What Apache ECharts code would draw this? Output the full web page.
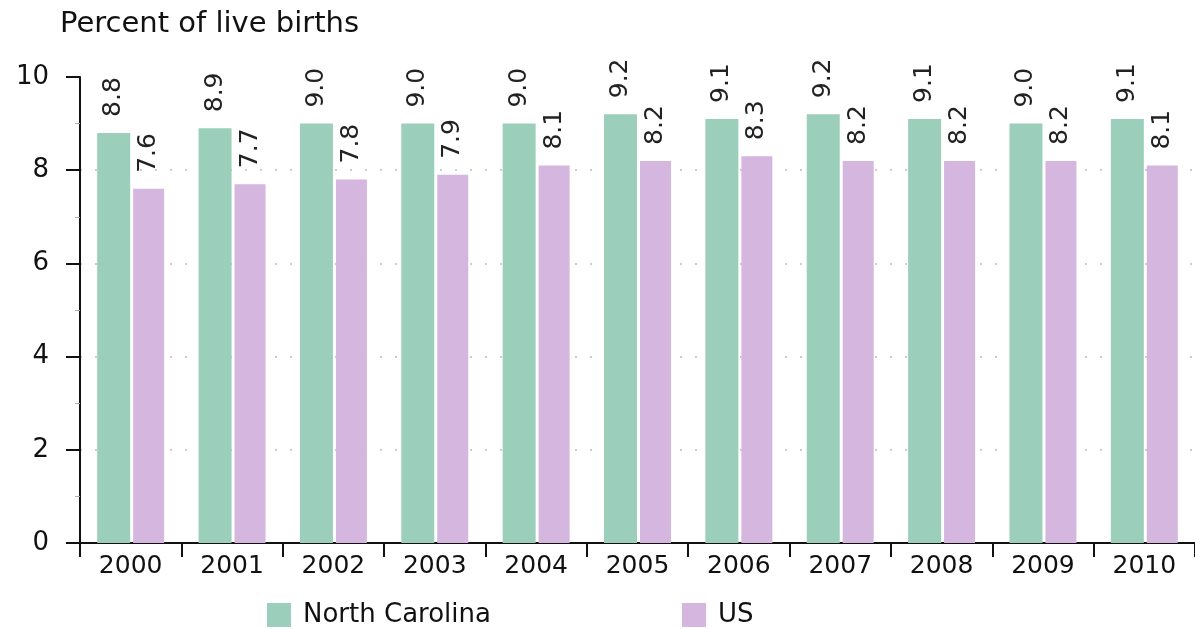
<!DOCTYPE html>
<html>
<head>
<meta charset="utf-8">
<title>Percent of live births</title>
<script src="https://cdn.jsdelivr.net/npm/echarts@6/dist/echarts.min.js"></script>
<style>
  html, body { margin: 0; padding: 0; background: #ffffff; }
  #chart { width: 1195px; height: 629px; }
</style>
</head>
<body>
<div id="chart"></div>
<script>
// Years on the category axis
const years = ['2000', '2001', '2002', '2003', '2004', '2005', '2006', '2007', '2008', '2009', '2010'];
// Percent of live births, by year
const northCarolina = [8.8, 8.9, 9.0, 9.0, 9.0, 9.2, 9.1, 9.2, 9.1, 9.0, 9.1];
const us = [7.6, 7.7, 7.8, 7.9, 8.1, 8.2, 8.3, 8.2, 8.2, 8.2, 8.1];
const seriesNames = ['North Carolina', 'US'];
const axisTitle = 'Percent of live births';

const FONT = '"DejaVu Sans", "Liberation Sans", Arial, sans-serif';
const NC_COLOR = '#9ccfbb';
const US_COLOR = '#d4b6df';

const valueLabel = {
  show: true,
  position: 'top',
  rotate: 90,
  align: 'left',
  verticalAlign: 'middle',
  distance: 16,
  fontFamily: FONT,
  fontSize: 25,
  color: '#222',
  formatter: p => p.value.toFixed(1)
};

function legendFor(name, left) {
  return {
    data: [name],
    left: left,
    top: 602,
    padding: 0,
    itemWidth: 24,
    itemHeight: 24,
    icon: 'rect',
    textStyle: { fontFamily: FONT, fontSize: 26, color: '#111', padding: [0, 0, 0, 7] }
  };
}

const chart = echarts.init(document.getElementById('chart'), null, { renderer: 'canvas' });
chart.setOption({
  animation: false,
  backgroundColor: '#ffffff',
  title: {
    text: axisTitle,
    left: 55,
    top: 5,
    textStyle: { fontFamily: FONT, fontSize: 29, fontWeight: 'normal', color: '#111' }
  },
  legend: [legendFor(seriesNames[0], 267), legendFor(seriesNames[1], 682)],
  grid: { left: 80, right: 0, top: 77, bottom: 86, containLabel: false },
  xAxis: {
    type: 'category',
    data: years,
    axisLine: { lineStyle: { color: '#111', width: 2 } },
    axisTick: { show: true, length: 14, lineStyle: { color: '#111', width: 2 } },
    axisLabel: { fontFamily: FONT, fontSize: 25, color: '#111', margin: 11 }
  },
  yAxis: {
    type: 'value',
    min: 0,
    max: 10,
    interval: 2,
    axisLine: { show: true, lineStyle: { color: '#111', width: 2 } },
    axisTick: { show: true, length: 14, lineStyle: { color: '#111', width: 2 } },
    minorTick: { show: true, splitNumber: 2, length: 5, lineStyle: { color: '#aaa', width: 1 } },
    axisLabel: { fontFamily: FONT, fontSize: 26, color: '#111', margin: 31 },
    splitLine: {
      show: true,
      showMaxLine: false,
      lineStyle: { color: '#cccccc', width: 2, type: [2, 13] }
    }
  },
  series: [
    {
      name: seriesNames[0],
      type: 'bar',
      data: northCarolina,
      barWidth: 33,
      barGap: '9%',
      itemStyle: { color: NC_COLOR },
      label: valueLabel
    },
    {
      name: seriesNames[1],
      type: 'bar',
      data: us,
      barWidth: 31,
      itemStyle: { color: US_COLOR },
      label: valueLabel
    }
  ]
});
</script>
</body>
</html>
